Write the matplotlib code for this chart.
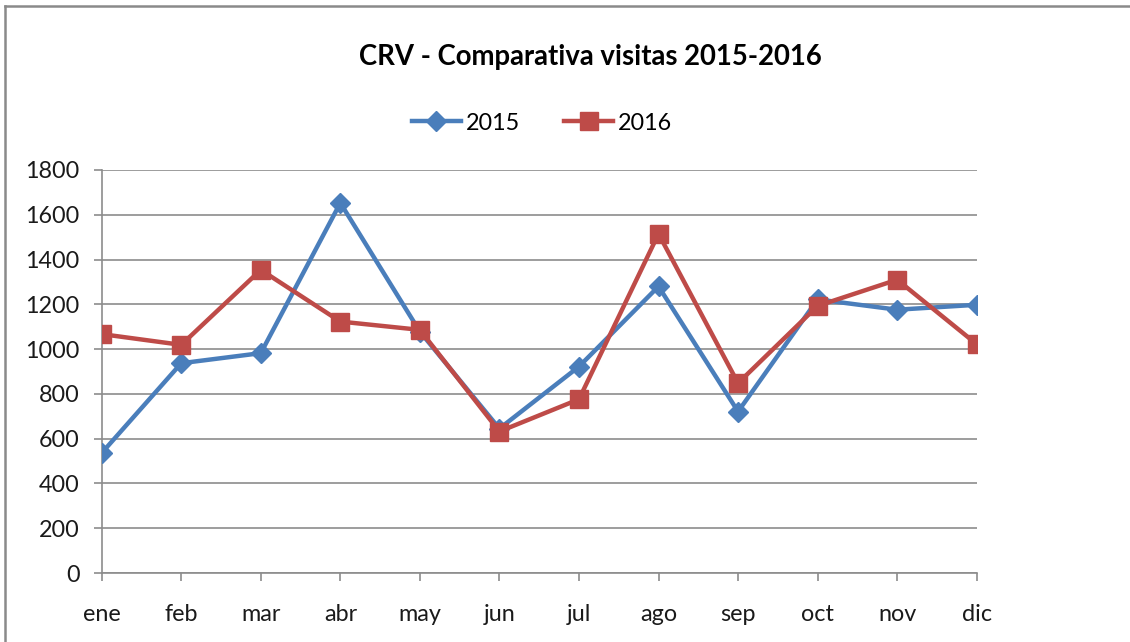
import matplotlib
matplotlib.use("Agg")
import matplotlib.pyplot as plt
from matplotlib.lines import Line2D

months = ["ene", "feb", "mar", "abr", "may", "jun", "jul", "ago", "sep", "oct", "nov", "dic"]
visits_2015 = [536, 937, 982, 1653, 1078, 645, 922, 1280, 721, 1222, 1176, 1198]
visits_2016 = [1067, 1019, 1354, 1123, 1086, 632, 776, 1515, 848, 1193, 1310, 1022]
yticks = [0, 200, 400, 600, 800, 1000, 1200, 1400, 1600, 1800]
title = "CRV - Comparativa visitas 2015-2016"
series_names = ["2015", "2016"]

plt.rcParams['font.family'] = ['Lato', 'DejaVu Sans']

W, H = 1130, 642
fig = plt.figure(figsize=(W / 100, H / 100), dpi=100)
ax = fig.add_axes([101.7 / W, 1 - 573 / H, (976.7 - 101.7) / W, (573 - 170) / H])

blue = "#4A7EBB"
red = "#BE4B48"
grid_c = "#8C8C8C"
txt_c = "#1a1a1a"

x = list(range(len(months)))
ax.plot(x, visits_2015, color=blue, lw=3.2, marker="D", markersize=10, zorder=3,
        solid_joinstyle="round")
ax.plot(x, visits_2016, color=red, lw=3.2, marker="s", markersize=13, zorder=4,
        solid_joinstyle="round")

ax.set_xlim(0, len(months) - 1)
ax.set_ylim(0, 1800)
ax.set_yticks(yticks)
ax.set_xticks(x)
ax.set_xticklabels(months)
ax.yaxis.grid(True, color=grid_c, lw=1.2)
ax.set_axisbelow(True)
for s in ["top", "right"]:
    ax.spines[s].set_visible(False)
for s in ["left", "bottom"]:
    ax.spines[s].set_color(grid_c)
    ax.spines[s].set_linewidth(1.2)
ax.tick_params(axis="y", length=6, width=1.2, color=grid_c, labelsize=16.8,
               labelcolor=txt_c, pad=10)
ax.tick_params(axis="x", length=6, width=1.2, color=grid_c, labelsize=16.8,
               labelcolor=txt_c, pad=16)

fig.text(590 / W, 1 - 57 / H, title, ha="center", va="center",
         fontsize=19.8, fontweight="bold", color="#000000")

handles = [Line2D([], [], color=blue, lw=3.2, marker="D", markersize=10),
           Line2D([], [], color=red, lw=3.2, marker="s", markersize=13)]
fig.legend(handles, series_names, loc="center", bbox_to_anchor=(542 / W, 1 - 123 / H),
           ncol=2, frameon=False, fontsize=16.8, handlelength=2.1, handletextpad=0.2,
           columnspacing=1.9)

# outer frame (left and top lines)
fig.add_artist(Line2D([5 / W, 5 / W], [0, 1 - 6 / H], color="#8A8A8A", lw=1.8,
                      transform=fig.transFigure))
fig.add_artist(Line2D([5 / W, 1], [1 - 6 / H, 1 - 6 / H], color="#8A8A8A", lw=1.8,
                      transform=fig.transFigure))

fig.savefig("out.png", dpi=100)
